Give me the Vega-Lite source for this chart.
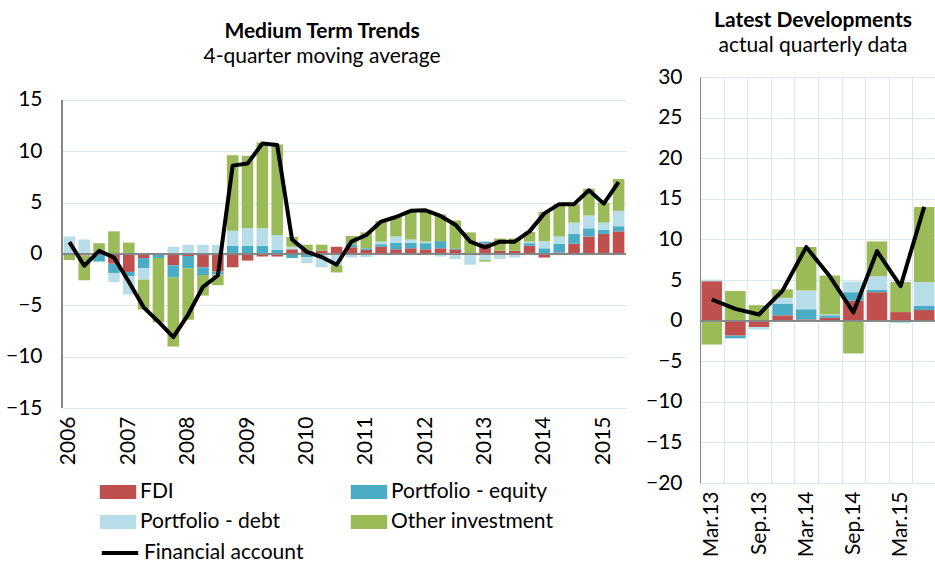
{
  "$schema": "https://vega.github.io/schema/vega-lite/v6.json",
  "padding": {"left": 5, "top": 10, "right": 0, "bottom": 0},
  "bounds": "flush",
  "spacing": 74,
  "config": {
    "font": "Lato",
    "view": {"stroke": null},
    "axis": {"labelFont": "Lato", "labelFontSize": 21, "labelColor": "#000000", "gridColor": "#dce6f0", "gridWidth": 1, "ticks": false, "title": null, "domainColor": "#868686"},
    "title": {"font": "Lato", "fontSize": 21, "fontWeight": "bold", "subtitleFont": "Lato", "subtitleFontSize": 21, "subtitlePadding": 4, "color": "#000000", "subtitleColor": "#000000"},
    "legend": {"labelFont": "Lato", "labelFontSize": 21, "labelColor": "#000000", "labelLimit": 400, "padding": 0, "offset": 0}
  },
  "datasets": {
    "sr": [
      {"series": "FDI", "k": 1},
      {"series": "Portfolio - equity", "k": 2},
      {"series": "Portfolio - debt", "k": 3},
      {"series": "Other investment", "k": 4}
    ],
    "mt": [
      {"q": "2006 Q1", "FDI": 0, "Portfolio - equity": 0, "Portfolio - debt": 1.7, "Other investment": -0.6, "fa": 1.15},
      {"q": "2006 Q2", "FDI": -0.15, "Portfolio - equity": 0, "Portfolio - debt": 1.4, "Other investment": -2.4, "fa": -1.15},
      {"q": "2006 Q3", "FDI": 0, "Portfolio - equity": -0.75, "Portfolio - debt": -0.05, "Other investment": 1.05, "fa": 0.3},
      {"q": "2006 Q4", "FDI": -0.95, "Portfolio - equity": -0.9, "Portfolio - debt": -0.9, "Other investment": 2.2, "fa": -0.35},
      {"q": "2007 Q1", "FDI": -1.75, "Portfolio - equity": -0.4, "Portfolio - debt": -1.8, "Other investment": 1.1, "fa": -2.7},
      {"q": "2007 Q2", "FDI": -0.4, "Portfolio - equity": -1.0, "Portfolio - debt": -1.1, "Other investment": -2.9, "fa": -5.2},
      {"q": "2007 Q3", "FDI": 0, "Portfolio - equity": -0.4, "Portfolio - debt": 0, "Other investment": -6.25, "fa": -6.6},
      {"q": "2007 Q4", "FDI": -1.1, "Portfolio - equity": -1.2, "Portfolio - debt": 0.7, "Other investment": -6.7, "fa": -8.1},
      {"q": "2008 Q1", "FDI": -0.2, "Portfolio - equity": -1.2, "Portfolio - debt": 0.9, "Other investment": -5.0, "fa": -5.9},
      {"q": "2008 Q2", "FDI": -1.3, "Portfolio - equity": -0.75, "Portfolio - debt": 0.88, "Other investment": -2.0, "fa": -3.2},
      {"q": "2008 Q3", "FDI": -1.7, "Portfolio - equity": -0.3, "Portfolio - debt": 0.88, "Other investment": -1.05, "fa": -2.1},
      {"q": "2008 Q4", "FDI": -1.3, "Portfolio - equity": 0.8, "Portfolio - debt": 1.45, "Other investment": 7.35, "fa": 8.6},
      {"q": "2009 Q1", "FDI": -0.65, "Portfolio - equity": 0.8, "Portfolio - debt": 1.7, "Other investment": 7.05, "fa": 8.8},
      {"q": "2009 Q2", "FDI": -0.25, "Portfolio - equity": 0.8, "Portfolio - debt": 1.7, "Other investment": 8.35, "fa": 10.75},
      {"q": "2009 Q3", "FDI": -0.25, "Portfolio - equity": 0.4, "Portfolio - debt": 1.45, "Other investment": 8.8, "fa": 10.6},
      {"q": "2009 Q4", "FDI": 0.45, "Portfolio - equity": -0.4, "Portfolio - debt": 0.25, "Other investment": 0.95, "fa": 1.4},
      {"q": "2010 Q1", "FDI": 0.3, "Portfolio - equity": -0.3, "Portfolio - debt": -0.6, "Other investment": 0.6, "fa": 0.2},
      {"q": "2010 Q2", "FDI": 0.3, "Portfolio - equity": 0, "Portfolio - debt": -1.3, "Other investment": 0.6, "fa": -0.3},
      {"q": "2010 Q3", "FDI": 0.7, "Portfolio - equity": 0, "Portfolio - debt": -1.1, "Other investment": -0.7, "fa": -1.05},
      {"q": "2010 Q4", "FDI": 0.65, "Portfolio - equity": 0.3, "Portfolio - debt": -0.35, "Other investment": 0.8, "fa": 1.2},
      {"q": "2011 Q1", "FDI": 0.4, "Portfolio - equity": 0.15, "Portfolio - debt": -0.3, "Other investment": 1.55, "fa": 1.85},
      {"q": "2011 Q2", "FDI": 0.7, "Portfolio - equity": 0.25, "Portfolio - debt": 0.25, "Other investment": 2.0, "fa": 3.15},
      {"q": "2011 Q3", "FDI": 0.45, "Portfolio - equity": 0.65, "Portfolio - debt": 0.6, "Other investment": 1.95, "fa": 3.6},
      {"q": "2011 Q4", "FDI": 0.55, "Portfolio - equity": 0.55, "Portfolio - debt": 0.3, "Other investment": 2.8, "fa": 4.2},
      {"q": "2012 Q1", "FDI": 0.45, "Portfolio - equity": 0.6, "Portfolio - debt": 0.15, "Other investment": 3.05, "fa": 4.25},
      {"q": "2012 Q2", "FDI": 0.55, "Portfolio - equity": 0.7, "Portfolio - debt": -0.25, "Other investment": 2.6, "fa": 3.7},
      {"q": "2012 Q3", "FDI": 0.45, "Portfolio - equity": 0.1, "Portfolio - debt": -0.5, "Other investment": 2.7, "fa": 2.85},
      {"q": "2012 Q4", "FDI": 0, "Portfolio - equity": 0, "Portfolio - debt": -1.05, "Other investment": 2.1, "fa": 1.2},
      {"q": "2013 Q1", "FDI": 1.0, "Portfolio - equity": 0.2, "Portfolio - debt": -0.6, "Other investment": -0.15, "fa": 0.65},
      {"q": "2013 Q2", "FDI": 0.3, "Portfolio - equity": 0, "Portfolio - debt": -0.5, "Other investment": 1.2, "fa": 1.2},
      {"q": "2013 Q3", "FDI": 0.3, "Portfolio - equity": 0, "Portfolio - debt": -0.35, "Other investment": 1.2, "fa": 1.2},
      {"q": "2013 Q4", "FDI": 0.8, "Portfolio - equity": 0.25, "Portfolio - debt": 0.15, "Other investment": 0.95, "fa": 2.2},
      {"q": "2014 Q1", "FDI": -0.35, "Portfolio - equity": 0.55, "Portfolio - debt": 0.7, "Other investment": 2.85, "fa": 3.95},
      {"q": "2014 Q2", "FDI": 0.15, "Portfolio - equity": 0.85, "Portfolio - debt": 0.7, "Other investment": 3.15, "fa": 4.85},
      {"q": "2014 Q3", "FDI": 1.0, "Portfolio - equity": 0.95, "Portfolio - debt": 1.1, "Other investment": 1.8, "fa": 4.85},
      {"q": "2014 Q4", "FDI": 1.7, "Portfolio - equity": 0.8, "Portfolio - debt": 1.25, "Other investment": 2.6, "fa": 6.2},
      {"q": "2015 Q1", "FDI": 1.95, "Portfolio - equity": 0.4, "Portfolio - debt": 0.7, "Other investment": 1.95, "fa": 4.9},
      {"q": "2015 Q2", "FDI": 2.2, "Portfolio - equity": 0.5, "Portfolio - debt": 1.5, "Other investment": 3.1, "fa": 7.0}
    ],
    "ld": [
      {"d": "Mar.13", "FDI": 4.85, "Portfolio - equity": 0, "Portfolio - debt": 0.2, "Other investment": -2.95, "fa": 2.6},
      {"d": "Jun.13", "FDI": -1.85, "Portfolio - equity": -0.3, "Portfolio - debt": -0.1, "Other investment": 3.65, "fa": 1.45},
      {"d": "Sep.13", "FDI": -0.8, "Portfolio - equity": 0, "Portfolio - debt": -0.3, "Other investment": 1.9, "fa": 0.75},
      {"d": "Dec.13", "FDI": 0.65, "Portfolio - equity": 1.4, "Portfolio - debt": 0.75, "Other investment": 1.05, "fa": 3.7},
      {"d": "Mar.14", "FDI": 0.15, "Portfolio - equity": 1.25, "Portfolio - debt": 2.3, "Other investment": 5.35, "fa": 9.05},
      {"d": "Jun.14", "FDI": 0.35, "Portfolio - equity": 0.3, "Portfolio - debt": 0.1, "Other investment": 4.8, "fa": 5.45},
      {"d": "Sep.14", "FDI": 2.45, "Portfolio - equity": 1.05, "Portfolio - debt": 1.3, "Other investment": -4.05, "fa": 1.0},
      {"d": "Dec.14", "FDI": 3.5, "Portfolio - equity": 0.3, "Portfolio - debt": 1.65, "Other investment": 4.3, "fa": 8.55},
      {"d": "Mar.15", "FDI": 1.05, "Portfolio - equity": 0, "Portfolio - debt": -0.3, "Other investment": 3.7, "fa": 4.25},
      {"d": "Jun.15", "FDI": 1.3, "Portfolio - equity": 0.55, "Portfolio - debt": 2.9, "Other investment": 9.25, "fa": 14.0}
    ]
  },
  "hconcat": [
    {
      "width": 564,
      "height": 331,
      "title": {"text": "Medium Term Trends", "subtitle": "4-quarter moving average", "offset": 10, "dx": -22},
      "data": {"name": "mt"},
      "layer": [
        {
          "transform": [
            {"fold": ["FDI", "Portfolio - equity", "Portfolio - debt", "Other investment"], "as": ["series", "value"]},
            {"lookup": "series", "from": {"data": {"name": "sr"}, "key": "series", "fields": ["k"]}}
          ],
          "mark": {"type": "bar", "width": {"band": 0.78}},
          "encoding": {
            "x": {"field": "q", "type": "ordinal", "sort": null, "scale": {"paddingInner": 0, "paddingOuter": 0},
                  "axis": {"labelAngle": 270, "domain": false, "labelPadding": 8, "labelExpr": "indexof(datum.label, 'Q1') > 0 ? slice(datum.label, 0, 4) : ''"}},
            "y": {"field": "value", "type": "quantitative", "scale": {"domain": [-15, 17.23], "nice": false, "zero": false},
                  "axis": {"values": [-15, -10, -5, 0, 5, 10, 15], "domain": false, "labelPadding": 20}},
            "order": {"field": "k", "type": "quantitative", "sort": "ascending"},
            "color": {"field": "series", "type": "nominal",
                      "scale": {"domain": ["FDI", "Portfolio - equity", "Portfolio - debt", "Other investment"], "range": ["#c0504d", "#4bacc6", "#b7dee8", "#9bbb59"]},
                      "legend": {"orient": "none", "legendX": 42, "legendY": 401, "columns": 2, "direction": "horizontal", "title": null, "symbolType": "M-1.3,-0.5H1.3V0.5H-1.3Z", "symbolSize": 784, "symbolStrokeWidth": 0, "labelOffset": 8, "rowPadding": 6, "columnPadding": 69}}
          }
        },
        {"mark": {"type": "rule", "color": "#868686", "strokeWidth": 1.2}, "encoding": {"y": {"datum": 0}}},
        {"mark": {"type": "rule", "color": "#868686", "strokeWidth": 1.2}, "encoding": {"x": {"datum": "2006 Q1", "bandPosition": 0}, "y": {"datum": -15}, "y2": {"datum": 15}}},
        {
          "mark": {"type": "line", "strokeWidth": 4, "strokeJoin": "round"},
          "encoding": {
            "x": {"field": "q", "type": "ordinal", "sort": null},
            "y": {"field": "fa", "type": "quantitative"},
            "stroke": {"datum": "Financial account", "type": "nominal", "scale": {"range": ["#000000"]},
                       "legend": {"orient": "none", "legendX": 42, "legendY": 460, "title": null, "symbolType": "M-1.3,0H1.3", "symbolSize": 784, "symbolStrokeWidth": 4, "labelOffset": 8}}
          }
        }
      ]
    },
    {
      "width": 236,
      "height": 406,
      "title": {"text": "Latest Developments", "subtitle": "actual quarterly data", "offset": 10, "dx": -5},
      "data": {"name": "ld"},
      "layer": [
        {
          "transform": [
            {"fold": ["FDI", "Portfolio - equity", "Portfolio - debt", "Other investment"], "as": ["series", "value"]},
            {"lookup": "series", "from": {"data": {"name": "sr"}, "key": "series", "fields": ["k"]}}
          ],
          "mark": {"type": "bar", "width": {"band": 0.87}},
          "encoding": {
            "x": {"field": "d", "type": "ordinal", "sort": null, "scale": {"paddingInner": 0, "paddingOuter": 0},
                  "axis": {"labelAngle": 270, "domain": false, "grid": true, "tickBand": "extent", "labelPadding": 8, "labelExpr": "indexof(datum.label, 'Mar') == 0 || indexof(datum.label, 'Sep') == 0 ? datum.label : ''"}},
            "y": {"field": "value", "type": "quantitative", "scale": {"domain": [-20, 30], "nice": false},
                  "axis": {"values": [-20, -15, -10, -5, 0, 5, 10, 15, 20, 25, 30], "domain": true, "labelPadding": 18}},
            "order": {"field": "k", "type": "quantitative", "sort": "ascending"},
            "color": {"field": "series", "type": "nominal",
                      "scale": {"domain": ["FDI", "Portfolio - equity", "Portfolio - debt", "Other investment"], "range": ["#c0504d", "#4bacc6", "#b7dee8", "#9bbb59"]},
                      "legend": {"orient": "none", "legendX": 42, "legendY": 401, "columns": 2, "direction": "horizontal", "title": null, "symbolType": "M-1.3,-0.5H1.3V0.5H-1.3Z", "symbolSize": 784, "symbolStrokeWidth": 0, "labelOffset": 8, "rowPadding": 6, "columnPadding": 69}}
          }
        },
        {"mark": {"type": "rule", "color": "#868686", "strokeWidth": 1.2}, "encoding": {"y": {"datum": 0}}},
        {
          "mark": {"type": "line", "strokeWidth": 4, "strokeJoin": "round"},
          "encoding": {
            "x": {"field": "d", "type": "ordinal", "sort": null},
            "y": {"field": "fa", "type": "quantitative"},
            "stroke": {"datum": "Financial account", "type": "nominal", "scale": {"range": ["#000000"]},
                       "legend": {"orient": "none", "legendX": 42, "legendY": 460, "title": null, "symbolType": "M-1.3,0H1.3", "symbolSize": 784, "symbolStrokeWidth": 4, "labelOffset": 8}}
          }
        }
      ]
    }
  ]
}
